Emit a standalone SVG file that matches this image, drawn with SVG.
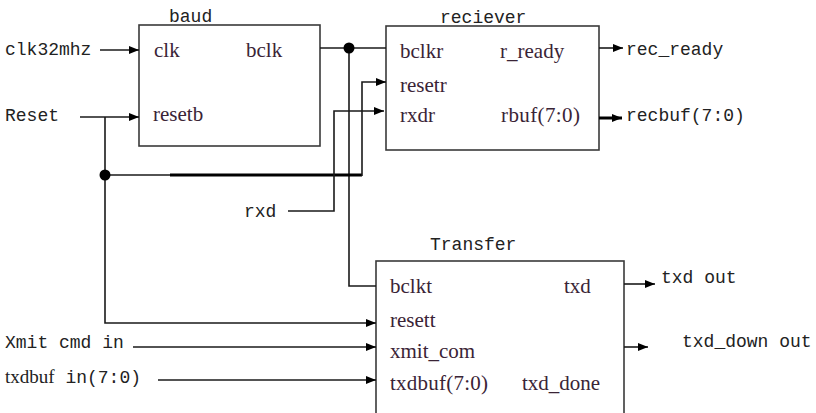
<svg xmlns="http://www.w3.org/2000/svg" width="816" height="413" viewBox="0 0 816 413">
<defs>
<marker id="ah" viewBox="0 0 10 8" refX="10" refY="4" markerWidth="10" markerHeight="8" markerUnits="userSpaceOnUse" orient="auto">
<path d="M0,0 L10,4 L0,8 Z" fill="#000"/>
</marker>
</defs>
<style>
.box{fill:#fff;stroke:#3a3a3a;stroke-width:1.6}
.w{fill:none;stroke:#1a1a1a;stroke-width:1.6}
.wt{fill:none;stroke:#000;stroke-width:3}
.m{font-family:"Liberation Mono","DejaVu Sans Mono",monospace;font-size:18px;fill:#222}
.p{font-family:"Liberation Serif","Times New Roman",serif;font-size:21px;fill:#3a2436}
.dot{fill:#000}
</style>
<rect width="816" height="413" fill="#fff"/>
<g id="baud">
<rect class="box" x="139" y="25" width="181" height="121"/>
<text class="m" x="169" y="22">baud</text>
<text class="p" x="154" y="57">clk</text>
<text class="p" x="246" y="57">bclk</text>
<text class="p" x="153" y="121">resetb</text>
</g>
<g id="reciever">
<rect class="box" x="386" y="26" width="213" height="124"/>
<text class="m" x="440" y="23">reciever</text>
<text class="p" x="400" y="58">bclkr</text>
<text class="p" x="500" y="58">r_ready</text>
<text class="p" x="400" y="92">resetr</text>
<text class="p" x="400" y="122">rxdr</text>
<text class="p" x="501" y="122" textLength="79">rbuf(7:0)</text>
</g>
<g id="transfer">
<rect class="box" x="376" y="261" width="248" height="160"/>
<text class="m" x="430" y="250">Transfer</text>
<text class="p" x="390" y="293">bclkt</text>
<text class="p" x="564" y="293">txd</text>
<text class="p" x="390" y="327">resett</text>
<text class="p" x="390" y="358">xmit_com</text>
<text class="p" x="390" y="390" textLength="98">txdbuf(7:0)</text>
<text class="p" x="522" y="390">txd_done</text>
</g>
<g id="labels">
<text class="m" x="5" y="55">clk32mhz</text>
<text class="m" x="5" y="121">Reset</text>
<text class="m" x="244" y="217">rxd</text>
<text class="m" x="5" y="348">Xmit cmd in</text>
<text class="m" x="5" y="383"><tspan style="font-family:'Liberation Serif',serif;font-size:19px">txdbuf</tspan> in(7:0)</text>
<text class="m" x="626" y="55">rec_ready</text>
<text class="m" x="626" y="121">recbuf(7:0)</text>
<text class="m" x="661" y="283">txd out</text>
<text class="m" x="682" y="347">txd_down out</text>
</g>
<g id="connectors">
<path class="w" d="M100,50 H139" marker-end="url(#ah)"/>
<path class="w" d="M80,117 H139" marker-end="url(#ah)"/>
<path class="w" d="M320,48 H386"/>
<path class="w" d="M349,48 V286 H376"/>
<path class="w" d="M105,117 V323 H376" marker-end="url(#ah)"/>
<path class="w" d="M105,175 H170"/>
<path class="wt" d="M170,175 H362"/>
<path class="w" d="M362,176 V82 H386" marker-end="url(#ah)"/>
<path class="w" d="M288,211 H334 V111 H384" marker-end="url(#ah)"/>
<path class="w" d="M133,347 H376" marker-end="url(#ah)"/>
<path class="w" d="M158,380 H376" marker-end="url(#ah)"/>
<path class="w" d="M599,48 H623" marker-end="url(#ah)"/>
<path class="wt" d="M599,118 H622" marker-end="url(#ah)"/>
<path class="w" d="M624,284 H655" marker-end="url(#ah)"/>
<path class="w" d="M624,347 H648" marker-end="url(#ah)"/>
<circle class="dot" cx="349" cy="48" r="5.5"/>
<circle class="dot" cx="105" cy="175" r="5.5"/>
</g>
</svg>
